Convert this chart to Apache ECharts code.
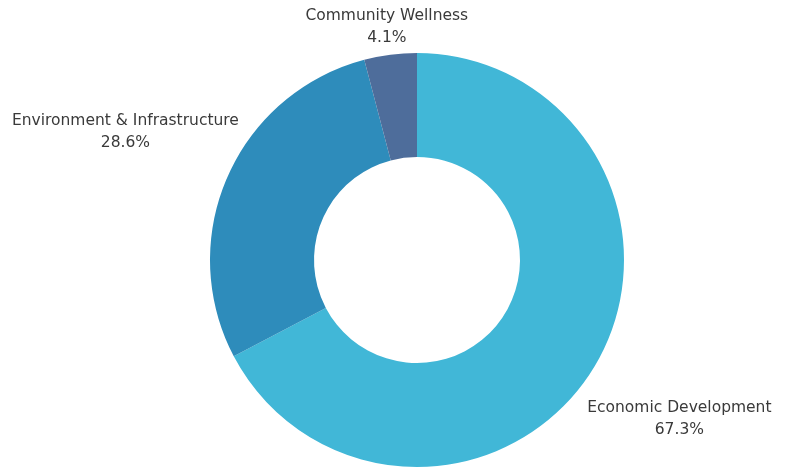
<!DOCTYPE html>
<html>
<head>
<meta charset="utf-8">
<style>
  html, body { margin: 0; padding: 0; background: #ffffff; }
  #chart { width: 787px; height: 468px; }
</style>
<script src="https://cdn.jsdelivr.net/npm/echarts@6/dist/echarts.min.js"></script>
</head>
<body>
<div id="chart"></div>
<script>
// Share of spending by program area (percent)
const categories = ['Economic Development', 'Environment & Infrastructure', 'Community Wellness'];
const shares = [67.3, 28.6, 4.1];
const colors = ['#41B7D7', '#2E8CBB', '#4E6D9B'];

const W = 787, H = 468;
const CX = 417, CY = 260;
const OUTER = 207;       // outer ring radius, px
const LABEL_GAP = 57;    // distance from ring to nearest label edge
const EDGE = 5;          // keep labels this far inside the canvas

const total = shares.reduce((a, b) => a + b, 0);
const starts = [];
shares.reduce((acc, v, i) => { starts[i] = acc; return acc + v; }, 0);

// Centre each label on its slice's mid-angle ray, just outside the ring,
// pulled back along the ray if it would leave the canvas.
function placeLabel(p) {
  const i = p.dataIndex;
  const w = p.labelRect.width, h = p.labelRect.height;
  const mid = (starts[i] + shares[i] / 2) / total * Math.PI * 2;
  const dx = Math.sin(mid), dy = -Math.cos(mid);
  const hw = w / 2, hh = h / 2;
  const tx = Math.abs(dx) > 1e-6 ? hw / Math.abs(dx) : Infinity;
  const ty = Math.abs(dy) > 1e-6 ? hh / Math.abs(dy) : Infinity;
  let d = OUTER + LABEL_GAP + Math.min(tx, ty);
  let x = CX + dx * d, y = CY + dy * d;
  if (y - hh < EDGE && dy < 0) d = (CY - EDGE - hh) / -dy;
  if (y + hh > H - EDGE && dy > 0) d = Math.min(d, (H - EDGE - hh - CY) / dy);
  x = CX + dx * d; y = CY + dy * d;
  return { x: x, y: y, align: 'center', verticalAlign: 'middle' };
}

const chart = echarts.init(document.getElementById('chart'), null, { renderer: 'canvas' });

chart.setOption({
  animation: false,
  textStyle: { fontFamily: 'DejaVu Sans' },
  series: [{
    type: 'pie',
    center: [CX, CY],
    radius: [103, OUTER],
    startAngle: 90,
    clockwise: true,
    avoidLabelOverlap: false,
    data: categories.map((name, i) => ({
      name: name,
      value: shares[i],
      itemStyle: { color: colors[i] }
    })),
    label: {
      show: true,
      position: 'outside',
      formatter: p => p.name + '\n' + p.value.toFixed(1) + '%',
      color: '#3a3a3a',
      fontSize: 15.5,
      lineHeight: 22,
      align: 'center'
    },
    labelLine: { show: false },
    labelLayout: placeLabel,
    emphasis: { disabled: true }
  }]
});
</script>
</body>
</html>
